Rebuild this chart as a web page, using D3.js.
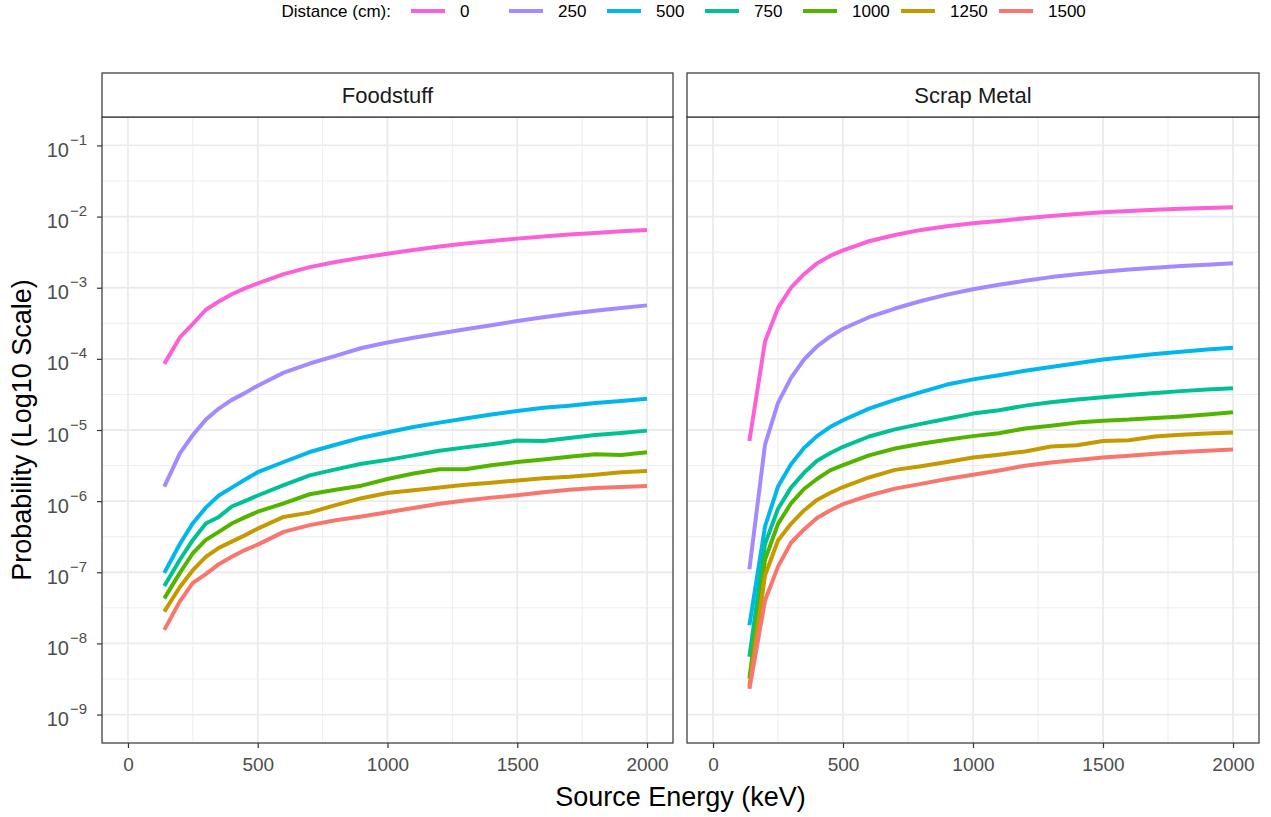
<!DOCTYPE html>
<html><head><meta charset="utf-8">
<script src="https://cdn.jsdelivr.net/npm/d3@7"></script>
<style>
body{margin:0;background:#fff}
text{font-family:"Liberation Sans",Arial,Helvetica,sans-serif}
</style>
</head><body>
<svg id="chart" width="1271" height="817"></svg>
<script>
// ---------------- data ----------------
const energies = [140,200,250,300,350,400,450,500,600,700,800,900,1000,1100,1200,1300,1400,1500,1600,1700,1800,1900,2000];
const distances = [0,250,500,750,1000,1250,1500];
const materials = ["Foodstuff","Scrap Metal"];
const seriesColors = ["#FB61D7","#A58AFF","#00B6EB","#00C094","#53B400","#C49A00","#F8766D"];

const food_0    = [8.5e-5,2.0e-4,3.1e-4,4.9e-4,6.4e-4,8.1e-4,9.8e-4,1.15e-3,1.55e-3,1.95e-3,2.3e-3,2.65e-3,3.0e-3,3.4e-3,3.8e-3,4.2e-3,4.55e-3,4.9e-3,5.25e-3,5.6e-3,5.9e-3,6.2e-3,6.5e-3];
const food_250  = [1.6e-6,4.7e-6,8.5e-6,1.4e-5,2.0e-5,2.65e-5,3.3e-5,4.2e-5,6.4e-5,8.6e-5,1.1e-4,1.42e-4,1.7e-4,1.98e-4,2.27e-4,2.6e-4,2.97e-4,3.4e-4,3.85e-4,4.3e-4,4.75e-4,5.2e-4,5.65e-4];
const food_500  = [9.8e-8,2.5e-7,4.9e-7,8.1e-7,1.2e-6,1.55e-6,2.0e-6,2.55e-6,3.55e-6,4.9e-6,6.2e-6,7.8e-6,9.3e-6,1.1e-5,1.27e-5,1.45e-5,1.65e-5,1.85e-5,2.05e-5,2.2e-5,2.4e-5,2.55e-5,2.75e-5];
const food_750  = [6.4e-8,1.5e-7,2.85e-7,4.85e-7,6.0e-7,8.4e-7,1.0e-6,1.2e-6,1.68e-6,2.3e-6,2.8e-6,3.35e-6,3.8e-6,4.4e-6,5.1e-6,5.7e-6,6.3e-6,7.1e-6,7.0e-6,7.7e-6,8.5e-6,9.1e-6,9.8e-6];
const food_1000 = [4.3e-8,9.8e-8,1.85e-7,2.85e-7,3.7e-7,4.85e-7,5.9e-7,7.1e-7,9.3e-7,1.25e-6,1.45e-6,1.65e-6,2.05e-6,2.45e-6,2.8e-6,2.8e-6,3.2e-6,3.55e-6,3.85e-6,4.2e-6,4.55e-6,4.45e-6,4.85e-6];
const food_1250 = [2.8e-8,6.2e-8,1.07e-7,1.65e-7,2.2e-7,2.7e-7,3.3e-7,4.1e-7,6.0e-7,6.9e-7,8.8e-7,1.1e-6,1.3e-6,1.42e-6,1.55e-6,1.7e-6,1.82e-6,1.95e-6,2.1e-6,2.2e-6,2.35e-6,2.55e-6,2.65e-6];
const food_1500 = [1.55e-8,3.9e-8,7.1e-8,9.4e-8,1.3e-7,1.65e-7,2.05e-7,2.45e-7,3.7e-7,4.6e-7,5.4e-7,6.1e-7,7.0e-7,8.0e-7,9.2e-7,1.02e-6,1.12e-6,1.21e-6,1.33e-6,1.45e-6,1.53e-6,1.58e-6,1.63e-6];

const scrap_0    = [7.0e-6,1.75e-4,5.2e-4,1.0e-3,1.55e-3,2.2e-3,2.8e-3,3.35e-3,4.5e-3,5.5e-3,6.5e-3,7.3e-3,8.05e-3,8.7e-3,9.5e-3,1.02e-2,1.09e-2,1.15e-2,1.2e-2,1.25e-2,1.29e-2,1.32e-2,1.35e-2];
const scrap_250  = [1.1e-7,6.2e-6,2.4e-5,5.4e-5,9.8e-5,1.5e-4,2.05e-4,2.65e-4,3.85e-4,5.1e-4,6.5e-4,8.0e-4,9.5e-4,1.1e-3,1.25e-3,1.41e-3,1.55e-3,1.68e-3,1.8e-3,1.91e-3,2.02e-3,2.11e-3,2.2e-3];
const scrap_500  = [1.8e-8,4.4e-7,1.6e-6,3.3e-6,5.6e-6,8.2e-6,1.1e-5,1.37e-5,2.0e-5,2.65e-5,3.4e-5,4.35e-5,5.15e-5,5.9e-5,6.8e-5,7.7e-5,8.7e-5,9.8e-5,1.07e-4,1.17e-4,1.26e-4,1.35e-4,1.43e-4];
const scrap_750  = [6.5e-9,2.5e-7,7.8e-7,1.55e-6,2.5e-6,3.7e-6,4.7e-6,5.8e-6,8.1e-6,1.02e-5,1.22e-5,1.44e-5,1.7e-5,1.9e-5,2.2e-5,2.45e-5,2.68e-5,2.88e-5,3.1e-5,3.32e-5,3.52e-5,3.7e-5,3.85e-5];
const scrap_1000 = [3.2e-9,1.5e-7,4.8e-7,9.3e-7,1.48e-6,2.05e-6,2.7e-6,3.2e-6,4.4e-6,5.5e-6,6.4e-6,7.3e-6,8.2e-6,9.0e-6,1.05e-5,1.15e-5,1.27e-5,1.35e-5,1.4e-5,1.48e-5,1.55e-5,1.65e-5,1.77e-5];
const scrap_1250 = [2.5e-9,9.0e-8,2.8e-7,4.8e-7,7.4e-7,1.04e-6,1.3e-6,1.58e-6,2.15e-6,2.75e-6,3.1e-6,3.55e-6,4.1e-6,4.5e-6,5.0e-6,5.85e-6,6.1e-6,7.0e-6,7.2e-6,8.1e-6,8.6e-6,8.9e-6,9.25e-6];
const scrap_1500 = [2.3e-9,4.0e-8,1.2e-7,2.6e-7,4.0e-7,5.8e-7,7.4e-7,9.1e-7,1.2e-6,1.5e-6,1.75e-6,2.05e-6,2.35e-6,2.7e-6,3.15e-6,3.5e-6,3.8e-6,4.1e-6,4.35e-6,4.65e-6,4.9e-6,5.1e-6,5.33e-6];

const xTicks = [0,500,1000,1500,2000];
const yTickExponents = [-1,-2,-3,-4,-5,-6,-7,-8,-9];

const panelData = [
  [food_0,food_250,food_500,food_750,food_1000,food_1250,food_1500],
  [scrap_0,scrap_250,scrap_500,scrap_750,scrap_1000,scrap_1250,scrap_1500]
];

// ---------------- layout ----------------
const FONT = '"Liberation Sans",Arial,Helvetica,sans-serif';
const svg = d3.select("#chart");
const panelTop = 117, panelBottom = 743, stripTop = 73;
const panels = [{x0:102,x1:673},{x0:687,x1:1259}];
const y = d3.scaleLog().domain([Math.pow(10,-9.4),Math.pow(10,-0.6)]).range([panelBottom,panelTop]);
const majorY = yTickExponents.map(e=>Math.pow(10,e));
const minorY = d3.range(-9.5,-0.4,1).map(e=>Math.pow(10,e)).filter(v=>v>y.domain()[0]&&v<y.domain()[1]);
const minorX = [250,750,1250,1750];

panels.forEach((p,pi)=>{
  const x = d3.scaleLinear().domain([-100,2100]).range([p.x0,p.x1]);
  const g = svg.append("g");
  g.append("rect").attr("x",p.x0).attr("y",panelTop).attr("width",p.x1-p.x0).attr("height",panelBottom-panelTop).attr("fill","#fff");
  // minor grid
  g.selectAll(".mgx").data(minorX).join("line")
    .attr("x1",d=>x(d)).attr("x2",d=>x(d)).attr("y1",panelTop).attr("y2",panelBottom)
    .attr("stroke","#EBEBEB").attr("stroke-width",0.9);
  g.selectAll(".mgy").data(minorY).join("line")
    .attr("x1",p.x0).attr("x2",p.x1).attr("y1",d=>y(d)).attr("y2",d=>y(d))
    .attr("stroke","#EBEBEB").attr("stroke-width",0.9);
  // major grid
  g.selectAll(".Mgx").data(xTicks).join("line")
    .attr("x1",d=>x(d)).attr("x2",d=>x(d)).attr("y1",panelTop).attr("y2",panelBottom)
    .attr("stroke","#EBEBEB").attr("stroke-width",1.8);
  g.selectAll(".Mgy").data(majorY).join("line")
    .attr("x1",p.x0).attr("x2",p.x1).attr("y1",d=>y(d)).attr("y2",d=>y(d))
    .attr("stroke","#EBEBEB").attr("stroke-width",1.8);

  // lines
  const line = d3.line().x((d,i)=>x(energies[i])).y(d=>y(d));
  const clipId = "clip"+pi;
  svg.append("clipPath").attr("id",clipId).append("rect")
    .attr("x",p.x0).attr("y",panelTop).attr("width",p.x1-p.x0).attr("height",panelBottom-panelTop);
  const lg = g.append("g").attr("clip-path",`url(#${clipId})`);
  panelData[pi].forEach((vals,si)=>{
    lg.append("path").attr("d",line(vals)).attr("fill","none")
      .attr("stroke",seriesColors[si]).attr("stroke-width",4)
      .attr("stroke-linejoin","round").attr("stroke-linecap","butt");
  });

  // border
  g.append("rect").attr("x",p.x0).attr("y",panelTop).attr("width",p.x1-p.x0).attr("height",panelBottom-panelTop)
    .attr("fill","none").attr("stroke","#333333").attr("stroke-width",1.2);
  // strip
  g.append("rect").attr("x",p.x0).attr("y",stripTop).attr("width",p.x1-p.x0).attr("height",panelTop-stripTop)
    .attr("fill","#fff").attr("stroke","#333333").attr("stroke-width",1.2);
  g.append("text").attr("x",(p.x0+p.x1)/2).attr("y",(stripTop+panelTop)/2).attr("dy","0.36em")
    .attr("text-anchor","middle").attr("font-size",22).attr("fill","#1A1A1A").text(materials[pi]);

  // x axis
  const xa = svg.append("g").attr("transform",`translate(0,${panelBottom})`)
    .call(d3.axisBottom(x).tickValues(xTicks).tickSize(5).tickPadding(10).tickFormat(d3.format("d")));
  xa.select(".domain").remove();
  xa.selectAll(".tick line").attr("stroke","#333333").attr("stroke-width",1.2);
  xa.selectAll(".tick text").attr("font-size",19).attr("fill","#4D4D4D").attr("font-family",FONT);

  if(pi===0){
    const ya = svg.append("g").attr("transform",`translate(${p.x0},0)`)
      .call(d3.axisLeft(y).tickValues(majorY).tickSize(5).tickPadding(10).tickFormat(""));
    ya.select(".domain").remove();
    ya.selectAll(".tick line").attr("stroke","#333333").attr("stroke-width",1.2);
    ya.selectAll(".tick text").each(function(d){
      const t = d3.select(this);
      t.attr("font-size",20).attr("fill","#4D4D4D").attr("font-family",FONT).attr("dy","0.55em");
      t.append("tspan").text("10");
      t.append("tspan").attr("font-size",15).attr("dy","-0.8em").attr("dx","1").text("\u2212"+(-Math.round(Math.log10(d))));
    });
  }
});

// axis titles
svg.append("text").attr("x",(102+1259)/2).attr("y",806).attr("text-anchor","middle")
  .attr("font-size",27).attr("fill","#000").text("Source Energy (keV)");
svg.append("text").attr("transform",`translate(31,${(panelTop+panelBottom)/2}) rotate(-90)`)
  .attr("text-anchor","middle").attr("font-size",27).attr("fill","#000").text("Probability (Log10 Scale)");

// legend
const lgd = svg.append("g");
lgd.append("text").attr("x",391).attr("y",11).attr("dy","0.35em").attr("text-anchor","end")
  .attr("font-size",17).attr("fill","#000").text("Distance (cm):");
distances.forEach((d,i)=>{
  const kx = 411 + i*98;
  lgd.append("line").attr("x1",kx).attr("x2",kx+34).attr("y1",11).attr("y2",11)
    .attr("stroke",seriesColors[i]).attr("stroke-width",4);
  lgd.append("text").attr("x",kx+49).attr("y",11).attr("dy","0.35em")
    .attr("font-size",17).attr("fill","#000").text(d);
});
</script>
</body></html>
